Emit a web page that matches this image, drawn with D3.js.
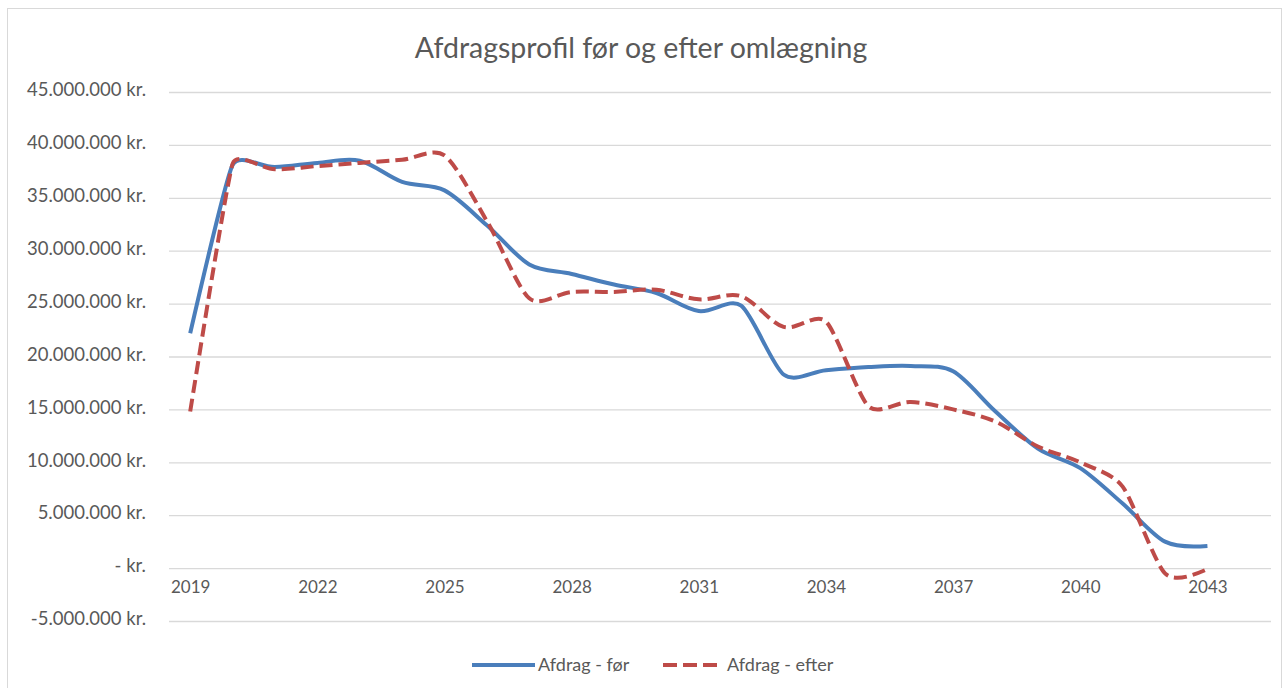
<!DOCTYPE html>
<html>
<head>
<meta charset="utf-8">
<script src="https://cdn.jsdelivr.net/npm/d3@7"></script>
<style>
  html, body { margin: 0; padding: 0; background: #ffffff; }
  svg { display: block; }
  text { font-family: Lato, "Open Sans", sans-serif; }
</style>
</head>
<body>
<svg id="chart" width="1284" height="688"></svg>
<script>
// ---- DATA ----
const years = [2019,2020,2021,2022,2023,2024,2025,2026,2027,2028,2029,2030,2031,2032,2033,2034,2035,2036,2037,2038,2039,2040,2041,2042,2043];
// Afdrag - før (kr.)
const afdragFoer = [22200000,38100000,37900000,38300000,38500000,36500000,35700000,32400000,28700000,27800000,26800000,26000000,24300000,24800000,18300000,18700000,19000000,19100000,18600000,14800000,11300000,9450000,6100000,2500000,2100000];
// Afdrag - efter (kr.)
const afdragEfter = [14800000,38200000,37700000,38000000,38300000,38600000,39000000,32800000,25500000,26100000,26100000,26300000,25400000,25700000,22800000,23300000,15300000,15700000,15000000,13850000,11500000,10000000,7700000,-500000,-100000];
const seriesNames = ["Afdrag - før", "Afdrag - efter"];
const xTickYears = [2019,2022,2025,2028,2031,2034,2037,2040,2043];
const yTickValues = [-5000000,0,5000000,10000000,15000000,20000000,25000000,30000000,35000000,40000000,45000000];
const title = "Afdragsprofil før og efter omlægning";

// ---- Excel-like smoothed line curve (Bezier handles limited by the shorter neighbour segment) ----
function ExcelSmooth(context) { this._context = context; }
ExcelSmooth.prototype = {
  areaStart() { this._line = 0; },
  areaEnd() { this._line = NaN; },
  lineStart() { this._pts = []; },
  point(x, y) { this._pts.push([+x, +y]); },
  lineEnd() {
    const p = this._pts, n = p.length, c = this._context, t = 1 / 3;
    if (!n) return;
    c.moveTo(p[0][0], p[0][1]);
    if (n < 3) { for (let i = 1; i < n; i++) c.lineTo(p[i][0], p[i][1]); return; }
    const hin = [], hout = [];
    for (let i = 1; i < n - 1; i++) {
      const vx = p[i + 1][0] - p[i - 1][0], vy = p[i + 1][1] - p[i - 1][1];
      const vl = Math.hypot(vx, vy) || 1;
      const d0 = Math.hypot(p[i][0] - p[i - 1][0], p[i][1] - p[i - 1][1]);
      const d1 = Math.hypot(p[i + 1][0] - p[i][0], p[i + 1][1] - p[i][1]);
      const L = t * Math.min(d0, d1);
      const ux = vx / vl, uy = vy / vl;
      hin[i] = [p[i][0] - ux * L, p[i][1] - uy * L];
      hout[i] = [p[i][0] + ux * L, p[i][1] + uy * L];
    }
    hout[0] = [p[0][0] + (hin[1][0] - p[0][0]) * t, p[0][1] + (hin[1][1] - p[0][1]) * t];
    hin[n - 1] = [p[n - 1][0] + (hout[n - 2][0] - p[n - 1][0]) * t, p[n - 1][1] + (hout[n - 2][1] - p[n - 1][1]) * t];
    for (let i = 0; i < n - 1; i++) {
      c.bezierCurveTo(hout[i][0], hout[i][1], hin[i + 1][0], hin[i + 1][1], p[i + 1][0], p[i + 1][1]);
    }
  }
};
const curveExcel = context => new ExcelSmooth(context);

// ---- LAYOUT ----
const svg = d3.select("#chart");
const plot = { left: 169, right: 1271, top: 92, bottom: 621 };
const colors = ["#4a7ebb", "#be4b48"];
const dash = "13,6";

// chart border
svg.append("rect").attr("x", 7.5).attr("y", 8.5).attr("width", 1274).attr("height", 700)
  .attr("fill", "#ffffff").attr("stroke", "#d9d9d9").attr("stroke-width", 1);

// Excel category axis: 26 slots (2019..2044), points at slot centers
const x = d3.scaleLinear().domain([2018.5, 2044.5]).range([plot.left, plot.right]);
const y = d3.scaleLinear().domain([-5000000, 45000000]).range([plot.bottom, plot.top]);

const loc = d3.formatLocale({ decimal: ",", thousands: ".", grouping: [3], currency: ["", " kr."], minus: "-" });
const fmtNum = loc.format(",.0f");
const yFmt = v => v === 0 ? "- kr." : fmtNum(v) + " kr.";

// gridlines + y labels
const yAxis = d3.axisLeft(y).tickValues(yTickValues).tickSize(-(plot.right - plot.left)).tickFormat(yFmt).tickPadding(23);
const gy = svg.append("g").attr("transform", `translate(${plot.left},0)`).call(yAxis);
gy.select(".domain").remove();
gy.selectAll(".tick line").attr("stroke", "#d9d9d9").attr("stroke-width", 1.3);
gy.selectAll(".tick text").attr("fill", "#595959").attr("font-size", 18.5).attr("dy", "0.2em")
  .attr("font-family", "Lato, sans-serif");

// x axis labels (axis crosses at 0)
const xAxis = d3.axisBottom(x).tickValues(xTickYears).tickFormat(d3.format("d")).tickSize(0).tickPadding(13);
const gx = svg.append("g").attr("transform", `translate(0,${y(0)})`).call(xAxis);
gx.select(".domain").remove();
gx.selectAll(".tick text").attr("fill", "#595959").attr("font-size", 17).attr("font-family", "Lato, sans-serif");

// lines
const line = d3.line().x((d, i) => x(years[i])).y(d => y(d)).curve(curveExcel);
svg.append("path").datum(afdragFoer).attr("d", line).attr("fill", "none")
  .attr("stroke", colors[0]).attr("stroke-width", 4).attr("stroke-linejoin", "round");
svg.append("path").datum(afdragEfter).attr("d", line).attr("fill", "none")
  .attr("stroke", colors[1]).attr("stroke-width", 4).attr("stroke-dasharray", dash).attr("stroke-linejoin", "round");

// title
svg.append("text").attr("x", 641).attr("y", 58).attr("text-anchor", "middle")
  .attr("font-size", 28.5).attr("fill", "#595959").text(title);

// legend
const legendY = 665;
const legendItems = [
  { name: seriesNames[0], color: colors[0], dash: null, x1: 472, x2: 535, tx: 538 },
  { name: seriesNames[1], color: colors[1], dash: "14,6", x1: 663, x2: 717, tx: 727 }
];
const lg = svg.append("g");
legendItems.forEach(it => {
  lg.append("line").attr("x1", it.x1).attr("x2", it.x2).attr("y1", legendY).attr("y2", legendY)
    .attr("stroke", it.color).attr("stroke-width", 4).attr("stroke-dasharray", it.dash);
  lg.append("text").attr("x", it.tx).attr("y", legendY).attr("dy", "0.35em")
    .attr("font-size", 18).attr("fill", "#595959").text(it.name);
});
</script>
</body>
</html>
